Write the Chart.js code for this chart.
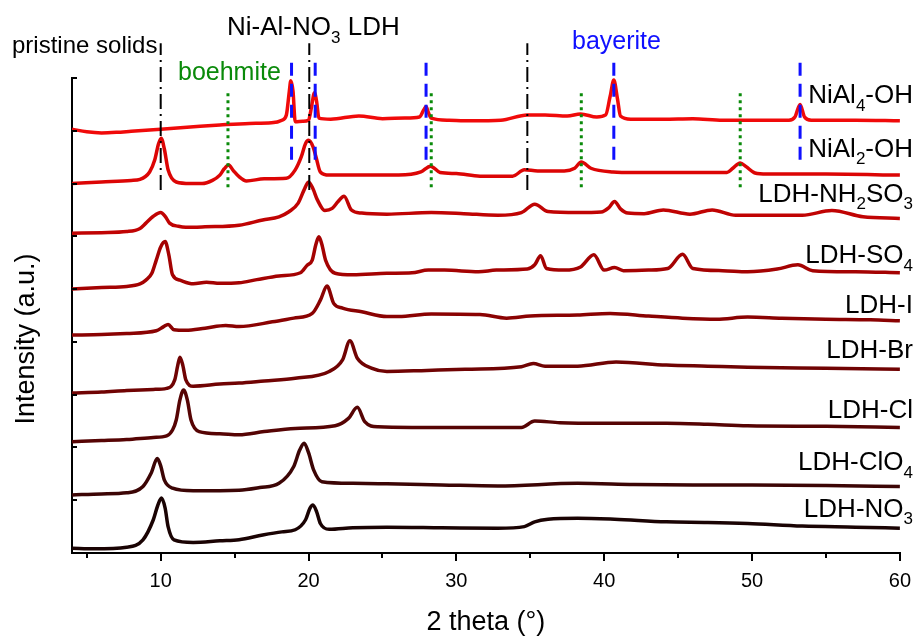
<!DOCTYPE html>
<html>
<head>
<meta charset="utf-8">
<script src="https://cdn.jsdelivr.net/npm/chart.js@4.4.1/dist/chart.umd.min.js"></script>
<style>
  html, body { margin: 0; padding: 0; background: #fff; }
</style>
</head>
<body>
<canvas id="xrd" width="919" height="640"></canvas>
<script>
// x = 2 theta, y = stacked intensity (a.u.)
const sampleNames = ["NiAl4-OH", "NiAl2-OH", "LDH-NH2SO3", "LDH-SO4", "LDH-I", "LDH-Br", "LDH-Cl", "LDH-ClO4", "LDH-NO3"];

const niAl4OH = [[4, 80.3], [5, 79.8], [6, 79.6], [7, 79.7], [8, 79.9], [9, 80.1], [10, 80.3], [12, 80.7], [14, 81.1], [16, 81.4], [17.5, 81.5], [18.2, 82.0], [18.5, 83], [18.7, 87.5], [18.8, 89.5], [18.95, 87.5], [19.1, 81.7], [19.6, 81.8], [20.0, 82.0], [20.2, 84.5], [20.4, 87.2], [20.55, 85.5], [20.7, 82.4], [21.5, 82.2], [23.4, 82.8], [25, 82.3], [26.5, 82.4], [27.5, 82.6], [27.8, 84.0], [27.95, 84.6], [28.1, 83.5], [28.3, 82.4], [29.5, 82.0], [31, 81.9], [33, 82.0], [34.8, 83.0], [36, 83.0], [37.5, 82.8], [38.4, 83.2], [39.5, 82.6], [40.1, 83.0], [40.4, 86.5], [40.65, 89.6], [40.9, 86.0], [41.1, 82.8], [41.8, 82.2], [44, 82.2], [46, 82.3], [48, 82.0], [50, 82.0], [52.5, 82.0], [52.9, 82.6], [53.25, 85.0], [53.55, 82.6], [54, 82.0], [57, 82.0], [60, 81.9]];
const niAl2OH = [[4, 70.0], [6, 70.3], [8, 70.6], [8.6, 70.8], [9.25, 72.2], [9.6, 74.5], [9.85, 77.5], [10.03, 78.6], [10.25, 76.5], [10.5, 72.6], [11.05, 70.3], [12, 70.0], [12.8, 70.0], [13.5, 70.6], [14, 71.6], [14.3, 72.8], [14.6, 73.5], [14.9, 72.5], [15.3, 71.3], [15.8, 70.5], [17, 70.9], [18.5, 71.0], [19.1, 72.6], [19.5, 75], [19.8, 77.6], [20.0, 78.2], [20.3, 77.0], [20.5, 75.1], [20.8, 72.2], [21.4, 71.6], [23, 71.6], [25.3, 71.6], [26.1, 71.6], [27.6, 72.2], [28.25, 73.3], [28.9, 72.1], [30, 71.9], [31.6, 71.4], [33.8, 71.4], [34.6, 72.6], [35.5, 72.4], [37.3, 72.4], [38.0, 72.9], [38.45, 74.1], [39.1, 72.9], [40.6, 72.2], [42, 72.1], [45, 72.1], [48.3, 72.1], [48.7, 72.9], [49.2, 73.9], [49.6, 73.2], [50.2, 72.0], [51, 71.8], [55, 71.8], [60, 71.6]];
const ldhNH2SO3 = [[4, 60.6], [6, 60.7], [7.7, 60.9], [8.6, 61.5], [9.0, 62.5], [9.5, 63.8], [10.0, 64.5], [10.3, 63.8], [10.6, 62.5], [11.2, 61.9], [11.7, 61.7], [13, 61.8], [15.3, 62.1], [16.9, 63.1], [18.0, 63.7], [18.7, 64.7], [19.3, 66.3], [19.7, 68.8], [20.0, 70.3], [20.3, 69.0], [20.6, 66.9], [21.1, 64.9], [21.6, 65.3], [22.0, 66.6], [22.4, 67.6], [22.9, 65.0], [23.6, 64.4], [25.3, 64.2], [28.3, 64.5], [30.5, 64.3], [32.8, 64.0], [34.4, 64.5], [35.3, 66.1], [36.2, 64.7], [38.2, 64.5], [39.8, 64.6], [40.3, 65.4], [40.7, 66.6], [41.1, 65.2], [41.6, 64.4], [42.7, 64.3], [44.0, 65.0], [45.8, 64.2], [47.3, 65.0], [48.9, 64.0], [51, 64.0], [53.4, 64.0], [55.4, 64.9], [57.5, 63.7], [60, 63.4]];
const ldhSO4 = [[4, 50.0], [6, 50.3], [7.7, 50.5], [8.6, 51.0], [9.0, 51.7], [9.4, 53.0], [9.7, 55.5], [10.0, 58.0], [10.3, 59.0], [10.55, 56.5], [10.8, 52.7], [11.3, 51.7], [12.2, 51.0], [13.1, 51.3], [14, 51.1], [15.3, 51.2], [16.5, 51.8], [18.0, 52.5], [19.45, 53.1], [19.9, 54.5], [20.25, 55.5], [20.5, 58.5], [20.7, 59.9], [20.9, 58.5], [21.15, 55.5], [21.8, 53.0], [23, 52.7], [25.3, 53.0], [27, 53.1], [28.1, 53.6], [29.2, 53.6], [31.5, 53.3], [32.7, 53.6], [34.8, 53.8], [35.3, 54.6], [35.7, 56.3], [36.1, 53.9], [37.3, 53.6], [38.4, 54.2], [39.3, 56.5], [40.0, 53.6], [40.7, 54.1], [41.3, 53.5], [43, 53.6], [44.3, 53.9], [45.3, 56.6], [46.0, 53.9], [48, 53.5], [49.7, 53.3], [51.7, 53.8], [53.1, 54.6], [54.1, 53.5], [57, 53.3], [60, 53.1]];
const ldhI = [[4, 41.3], [6, 41.4], [7.7, 41.6], [9.7, 42.1], [10.2, 42.9], [10.5, 43.3], [10.9, 42.3], [11.7, 42.2], [13, 42.6], [14.4, 43.1], [15.3, 42.9], [17.55, 43.8], [19, 44.5], [20.25, 45.4], [20.8, 47.9], [21.25, 50.6], [21.7, 47.3], [22.3, 46.4], [23.6, 45.7], [25.3, 44.8], [26.1, 44.8], [28.3, 45.3], [31.6, 45.2], [33.4, 44.5], [35, 44.9], [38.2, 45.1], [40.4, 45.4], [43, 44.9], [45.3, 44.5], [47.6, 44.3], [49.7, 44.7], [52, 44.5], [55, 44.3], [58, 44.2], [60, 44.0]];
const ldhBr = [[4, 30.3], [6, 30.5], [7.7, 30.8], [9.5, 31.0], [10.4, 31.2], [10.95, 32.8], [11.15, 35.5], [11.3, 37.1], [11.5, 35.5], [11.7, 32.8], [12.2, 31.6], [14, 32.0], [15.3, 32.2], [17, 32.6], [19.1, 33.1], [21.4, 34.4], [22.3, 36.6], [22.8, 40.2], [23.3, 36.9], [24.3, 35.0], [25.3, 34.4], [28, 34.6], [30.6, 34.8], [34.4, 35.3], [35.2, 35.9], [36.0, 35.4], [38.2, 35.4], [40.8, 36.2], [44.2, 35.6], [47, 35.4], [49.7, 35.2], [55, 35.0], [60, 34.8]];
const ldhCl = [[4, 21.1], [6, 21.3], [7.7, 21.5], [9.5, 21.9], [10.4, 22.2], [10.8, 23.3], [11.05, 25.2], [11.3, 29.0], [11.55, 30.9], [11.8, 29.0], [12.05, 25.2], [12.6, 23.0], [14, 22.6], [15.3, 22.4], [17, 23.0], [19.1, 23.6], [21.8, 24.1], [22.7, 25.5], [23.3, 27.6], [23.8, 24.9], [24.7, 23.9], [27, 23.8], [30, 23.8], [34.4, 23.8], [35.3, 25.0], [37, 24.7], [40, 24.6], [44.2, 24.6], [47, 24.4], [49.7, 24.1], [55, 24.0], [60, 23.8]];
const ldhClO4 = [[4, 11.0], [6, 11.2], [7.7, 11.4], [8.8, 12.6], [9.35, 15.1], [9.77, 17.9], [10.0, 16.5], [10.25, 13.8], [10.8, 12.3], [12.2, 11.8], [15.3, 11.9], [16.7, 12.4], [18.0, 13.2], [19.0, 16.4], [19.4, 19.5], [19.7, 20.8], [20.0, 19.0], [20.35, 15.7], [20.9, 13.5], [23, 13.2], [25.3, 13.1], [29, 12.9], [32.8, 12.7], [38.2, 13.2], [42, 13.0], [46, 12.9], [50, 12.9], [55, 12.8], [60, 12.6]];
const ldhNO3 = [[4, 0.9], [5.5, 0.8], [7.7, 1.1], [8.8, 2.5], [9.5, 6.3], [9.8, 9.0], [10.05, 10.4], [10.3, 8.5], [10.5, 5.0], [10.9, 2.5], [12.2, 2.0], [14, 2.3], [15.3, 2.5], [16.9, 3.4], [18.2, 4.0], [19.1, 4.4], [19.8, 6.3], [20.1, 8.5], [20.3, 9.1], [20.55, 7.8], [20.8, 5.6], [21.4, 4.5], [23, 4.8], [25.3, 4.9], [29, 4.8], [32.8, 4.7], [34.6, 5.0], [35.3, 5.9], [36.2, 6.4], [38.2, 6.6], [40.7, 6.4], [44.2, 5.9], [47, 5.8], [49.7, 5.6], [53.4, 5.1], [57, 4.9], [60, 4.7]];

const traces = [niAl4OH, niAl2OH, ldhNH2SO3, ldhSO4, ldhI, ldhBr, ldhCl, ldhClO4, ldhNO3];

// reference peak positions (2 theta)
const ldhPeaks = [10.0, 20.05, 34.8];
const boehmitePeaks = [14.55, 28.3, 38.45, 49.2];
const bayeritePeaks = [18.85, 20.45, 27.95, 40.65, 53.25];

const xTicks = [10, 20, 30, 40, 50, 60];
const xMinorTicks = [5, 15, 25, 35, 45, 55];

const traceColors = ["#f00a0a", "#dc0505", "#c00303", "#a40202", "#8a0202", "#700303", "#560404", "#3c0505", "#1a0303"];
const FONT = "'Liberation Sans', Arial, sans-serif";

function toXY(arr) {
  return arr.map(p => ({ x: p[0], y: p[1] }));
}

let datasets = [];

function refLine(x, y0, y1, color, dash, width) {
  datasets.push({
    data: [{ x: x, y: y0 }, { x: x, y: y1 }],
    borderColor: color,
    borderWidth: width,
    borderDash: dash,
    pointRadius: 0,
    tension: 0,
    clip: false,
    order: 0
  });
}

ldhPeaks.forEach(p => refLine(p, 68.8, 96.6, "#000000", [15, 5, 2, 5], 2));
bayeritePeaks.forEach(p => refLine(p, 74.5, 93.4, "#1010ff", [13, 8], 3));
boehmitePeaks.forEach(p => refLine(p, 69.3, 87.7, "#0a8a0a", [3, 4], 3));

traces.forEach((t, i) => {
  datasets.push({
    label: sampleNames[i],
    data: toXY(t),
    borderColor: traceColors[i],
    borderWidth: 3.5,
    pointRadius: 0,
    cubicInterpolationMode: "monotone",
    order: 1
  });
});

// labels with subscripts, split into [text, isSub]
const rightLabels = [
  [["NiAl", 0], ["4", 1], ["-OH", 0]],
  [["NiAl", 0], ["2", 1], ["-OH", 0]],
  [["LDH-NH", 0], ["2", 1], ["SO", 0], ["3", 1]],
  [["LDH-SO", 0], ["4", 1]],
  [["LDH-I", 0]],
  [["LDH-Br", 0]],
  [["LDH-Cl", 0]],
  [["LDH-ClO", 0], ["4", 1]],
  [["LDH-NO", 0], ["3", 1]]
];
const labelLevels = [85.3, 75.1, 66.6, 54.9, 45.4, 36.9, 25.5, 15.7, 6.9];

function partsWidth(ctx, parts, size) {
  let w = 0;
  parts.forEach(p => {
    ctx.font = (p[1] ? Math.round(size * 0.66) : size) + "px " + FONT;
    w += ctx.measureText(p[0]).width;
  });
  return w;
}

function drawParts(ctx, parts, x, baseline, size, color) {
  ctx.fillStyle = color;
  ctx.textBaseline = "alphabetic";
  ctx.textAlign = "left";
  parts.forEach(p => {
    ctx.font = (p[1] ? Math.round(size * 0.66) : size) + "px " + FONT;
    ctx.fillText(p[0], x, baseline + (p[1] ? size * 0.3 : 0));
    x += ctx.measureText(p[0]).width;
  });
}

const decorations = {
  id: "decorations",
  afterDraw(chart) {
    const ctx = chart.ctx;
    const xs = chart.scales.x, ys = chart.scales.y;
    ctx.save();

    // minor x ticks (outside) and y ticks (inside)
    ctx.strokeStyle = "#000";
    ctx.lineWidth = 2;
    xMinorTicks.forEach(v => {
      const px = Math.round(xs.getPixelForValue(v));
      ctx.beginPath();
      ctx.moveTo(px, ys.bottom);
      ctx.lineTo(px, ys.bottom + 5);
      ctx.stroke();
    });
    ys.ticks.forEach(t => {
      const py = Math.round(ys.getPixelForValue(t.value));
      ctx.beginPath();
      ctx.moveTo(xs.left, py);
      ctx.lineTo(xs.left + 5, py);
      ctx.stroke();
    });

    // sample names on the right
    rightLabels.forEach((parts, i) => {
      const w = partsWidth(ctx, parts, 26);
      drawParts(ctx, parts, chart.width - 6 - w, ys.getPixelForValue(labelLevels[i]), 26, "#000");
    });

    // phase labels above
    drawParts(ctx, [["pristine solids", 0]], 12, 53, 24, "#000");
    drawParts(ctx, [["Ni-Al-NO", 0], ["3", 1], [" LDH", 0]], 227, 35, 26, "#000");
    drawParts(ctx, [["boehmite", 0]], 178, 80, 25, "#0a8a0a");
    drawParts(ctx, [["bayerite", 0]], 572, 49, 25, "#1010ff");

    // y axis title
    ctx.translate(27, 339);
    ctx.rotate(-Math.PI / 2);
    ctx.font = "27px " + FONT;
    ctx.fillStyle = "#000";
    ctx.textAlign = "center";
    ctx.textBaseline = "middle";
    ctx.fillText("Intensity (a.u.)", 0, 0);
    ctx.restore();
  }
};

new Chart(document.getElementById("xrd"), {
  type: "line",
  data: { datasets: datasets },
  options: {
    responsive: false,
    animation: false,
    layout: { padding: { top: 78, right: 15, left: 0, bottom: 0 } },
    plugins: { legend: { display: false }, tooltip: { enabled: false } },
    scales: {
      x: {
        type: "linear",
        min: 4,
        max: 60,
        afterBuildTicks: scale => { scale.ticks = xTicks.map(v => ({ value: v })); },
        afterFit: scale => { scale.height = 87; },
        grid: { drawOnChartArea: false, drawTicks: true, tickLength: 8, color: "#000", lineWidth: 2 },
        border: { display: true, color: "#000", width: 2 },
        ticks: { color: "#000", font: { family: FONT, size: 20 }, padding: 8, maxRotation: 0 },
        title: { display: true, text: "2 theta (°)", color: "#000", font: { family: FONT, size: 27 }, padding: { top: 0, bottom: 1 } }
      },
      y: {
        min: 0,
        max: 90,
        ticks: { display: false, stepSize: 10 },
        afterFit: scale => { scale.width = 72; },
        grid: { display: false },
        border: { display: true, color: "#000", width: 2 }
      }
    }
  },
  plugins: [decorations]
});
</script>
</body>
</html>
